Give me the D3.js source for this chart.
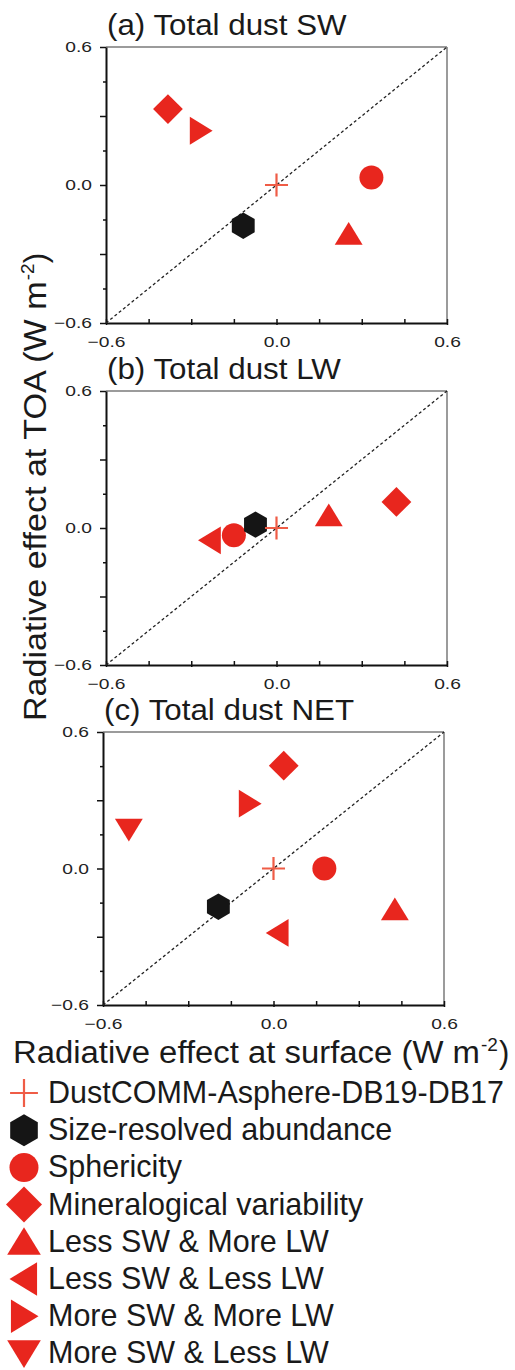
<!DOCTYPE html>
<html>
<head>
<meta charset="utf-8">
<script src="https://cdn.jsdelivr.net/npm/d3@7"></script>
<style>
  body { margin: 0; background: #fff; }
  svg { font-family: "Liberation Sans", Arial, sans-serif; display: block; }
</style>
</head>
<body>
<svg id="chart"></svg>
<script>
// ---- data ----
const seriesNames = [
    'DustCOMM-Asphere-DB19-DB17',
    'Size-resolved abundance',
    'Sphericity',
    'Mineralogical variability',
    'Less SW & More LW',
    'Less SW & Less LW',
    'More SW & More LW',
    'More SW & Less LW'
];
const seriesShapes = ['cross', 'hexagon', 'circle', 'diamond', 'triUp', 'triLeft', 'triRight', 'triDown'];
const seriesColors = ['#ef5c46', '#151515', '#e8261e', '#e8261e', '#e8261e', '#e8261e', '#e8261e', '#e8261e'];

// surface (x) and TOA (y) radiative effect, W m-2 (null = not shown)
const swSurface  = [0, -0.117, 0.334, -0.382, 0.254, null, -0.267, null];
const swToa      = [0, -0.177, 0.033, 0.330, -0.213, null, 0.236, null];
const lwSurface  = [0, -0.074, -0.150, 0.422, 0.184, -0.234, null, null];
const lwToa      = [0, 0.015, -0.032, 0.114, 0.055, -0.054, null, null];
const netSurface = [0, -0.194, 0.179, 0.036, 0.427, 0.015, -0.084, -0.509];
const netToa     = [0, -0.168, 0.000, 0.452, -0.180, -0.283, 0.285, 0.171];

const panelTitles = ['(a) Total dust SW', '(b) Total dust LW', '(c) Total dust NET'];
const tickValues = [-0.6, -0.45, -0.3, -0.15, 0, 0.15, 0.3, 0.45, 0.6];
const majorTicks = [-0.6, 0, 0.6];
const majorTickLabels = ['\u22120.6', '0.0', '0.6'];
const axisDomain = [-0.6, 0.6];

const width = 515, height = 1370;

const svg = d3.select('#chart')
    .attr('width', width)
    .attr('height', height);

// the original figure's lettering is a bit wider than Arial; widen each text by k
function stretch(sel, k) {
    sel.each(function() {
        const w = this.getComputedTextLength();
        if (w > 0) {
            d3.select(this)
                .attr('textLength', w * k)
                .attr('lengthAdjust', 'spacingAndGlyphs');
        }
    });
}

// build a marker path centred on 0,0 ; s is the nominal marker size in px
function markerPath(shape, s) {
    const p = d3.path();
    const h = s / 2;
    if (shape === 'circle') {
        p.arc(0, 0, h, 0, 2 * Math.PI);
    } else if (shape === 'hexagon') {
        const r = s * 0.55;
        for (let i = 0; i < 6; i++) {
            const a = -Math.PI / 2 + i * Math.PI / 3;
            i === 0 ? p.moveTo(r * Math.cos(a), r * Math.sin(a)) : p.lineTo(r * Math.cos(a), r * Math.sin(a));
        }
        p.closePath();
    } else if (shape === 'diamond') {
        const r = s * 0.62;
        p.moveTo(0, -r); p.lineTo(r, 0); p.lineTo(0, r); p.lineTo(-r, 0); p.closePath();
    } else if (shape === 'triUp') {
        p.moveTo(0, -s * 0.5); p.lineTo(s * 0.58, s * 0.45); p.lineTo(-s * 0.58, s * 0.45); p.closePath();
    } else if (shape === 'triDown') {
        p.moveTo(0, s * 0.5); p.lineTo(s * 0.58, -s * 0.45); p.lineTo(-s * 0.58, -s * 0.45); p.closePath();
    } else if (shape === 'triLeft') {
        p.moveTo(-s * 0.5, 0); p.lineTo(s * 0.45, -s * 0.58); p.lineTo(s * 0.45, s * 0.58); p.closePath();
    } else if (shape === 'triRight') {
        p.moveTo(s * 0.5, 0); p.lineTo(-s * 0.45, -s * 0.58); p.lineTo(-s * 0.45, s * 0.58); p.closePath();
    } else if (shape === 'cross') {
        const r = s * 0.48;
        p.moveTo(-r, 0); p.lineTo(r, 0); p.moveTo(0, -r); p.lineTo(0, r);
    }
    return p.toString();
}

function drawMarker(g, shape, color, s) {
    const path = g.append('path').attr('d', markerPath(shape, s));
    if (shape === 'cross') {
        path.attr('fill', 'none').attr('stroke', color).attr('stroke-width', 2.2);
    } else {
        path.attr('fill', color);
    }
}

class Scatterplot {
    constructor(_config, _xs, _ys) {
        this.config = {
            left: _config.left,
            top: _config.top,
            size: _config.size || 341,
            plotHeight: _config.plotHeight || 275,
            title: _config.title
        };
        this.data = seriesNames.map((name, i) => ({
            name: name,
            shape: seriesShapes[i],
            color: seriesColors[i],
            x: _xs[i],
            y: _ys[i]
        })).filter(d => d.x !== null && d.y !== null);
        this.initVis();
    }

    initVis() {
        let vis = this;
        vis.chart = svg.append('g')
            .attr('transform', `translate(${vis.config.left},${vis.config.top})`);

        vis.xScale = d3.scaleLinear().domain(axisDomain).range([0, vis.config.size]);
        vis.yScale = d3.scaleLinear().domain(axisDomain).range([vis.config.plotHeight, 0]);

        const fmt = d => {
            const k = majorTicks.findIndex(t => Math.abs(t - d) < 1e-9);
            return k >= 0 ? majorTickLabels[k] : '';
        };
        const isLong = d => Math.abs(Math.abs(d) - 0.3) < 1e-9 || Math.abs(d) < 1e-9 || Math.abs(Math.abs(d) - 0.6) < 1e-9;

        vis.xAxis = d3.axisBottom(vis.xScale)
            .tickValues(tickValues)
            .tickSize(6)
            .tickSizeOuter(0)
            .tickPadding(7)
            .tickFormat(fmt);

        vis.yAxis = d3.axisLeft(vis.yScale)
            .tickValues(tickValues)
            .tickSize(6)
            .tickSizeOuter(0)
            .tickPadding(8)
            .tickFormat(fmt);

        // top / right frame in grey
        vis.chart.append('line')
            .attr('x1', 0).attr('x2', vis.config.size)
            .attr('y1', 0).attr('y2', 0)
            .attr('stroke', '#7a7a7a').attr('stroke-width', 1.5);
        vis.chart.append('line')
            .attr('x1', vis.config.size).attr('x2', vis.config.size)
            .attr('y1', 0).attr('y2', vis.config.plotHeight)
            .attr('stroke', '#7a7a7a').attr('stroke-width', 1.5);

        vis.xAxisG = vis.chart.append('g')
            .attr('transform', `translate(0,${vis.config.plotHeight})`)
            .call(vis.xAxis);
        vis.xAxisG.selectAll('.tick line')
            .attr('y1', -4)
            .attr('y2', d => isLong(d) ? 2 : 0);

        vis.yAxisG = vis.chart.append('g')
            .call(vis.yAxis);
        vis.yAxisG.selectAll('.tick line')
            .attr('x2', d => isLong(d) ? -6 : -3);

        [vis.xAxisG, vis.yAxisG].forEach(g => {
            g.select('.domain').attr('stroke', '#111').attr('stroke-width', 2);
            g.selectAll('.tick line').attr('stroke', '#111').attr('stroke-width', 1.5);
            g.selectAll('.tick text')
                .attr('fill', '#222')
                .style('font-size', '15px')
                .style('font-family', '"Liberation Sans", Arial, sans-serif')
                .call(stretch, 1.28);
        });

        vis.chart.append('text')
            .attr('x', 1)
            .attr('y', -12)
            .attr('fill', '#1a1a1a')
            .style('font-size', '29px')
            .text(vis.config.title)
            .call(stretch, 1.08);

        vis.renderVis();
    }

    renderVis() {
        let vis = this;

        // 1:1 line
        vis.chart.append('line')
            .attr('x1', vis.xScale(axisDomain[0])).attr('y1', vis.yScale(axisDomain[0]))
            .attr('x2', vis.xScale(axisDomain[1])).attr('y2', vis.yScale(axisDomain[1]))
            .attr('stroke', '#222')
            .attr('stroke-width', 1.3)
            .attr('stroke-dasharray', '3,2.5');

        // draw in reverse legend order so the reference cross lies on top
        const pts = vis.chart.selectAll('.point')
            .data(vis.data.slice().reverse())
            .join('g')
            .attr('class', 'point')
            .attr('transform', d => `translate(${vis.xScale(d.x)},${vis.yScale(d.y)})`);
        pts.each(function(d) { drawMarker(d3.select(this), d.shape, d.color, 24); });
    }
}

new Scatterplot({ left: 106, top: 47, plotHeight: 276, title: panelTitles[0] }, swSurface, swToa);
new Scatterplot({ left: 106, top: 391, plotHeight: 274, title: panelTitles[1] }, lwSurface, lwToa);
new Scatterplot({ left: 103, top: 732, plotHeight: 273, title: panelTitles[2] }, netSurface, netToa);

// shared axis titles (superscript kept as a separate text so the stretch stays simple)
const yTitle = svg.append('g')
    .attr('transform', 'translate(46,487) rotate(-90)');
const yMain = yTitle.append('text')
    .attr('fill', '#1a1a1a')
    .style('font-size', '31px')
    .text('Radiative effect at TOA (W m')
    .call(stretch, 1.1);
const yMainW = +yMain.attr('textLength');
yTitle.append('text')
    .attr('x', yMainW + 1).attr('y', -12)
    .attr('fill', '#1a1a1a')
    .style('font-size', '19px')
    .text('-2');
yTitle.append('text')
    .attr('x', yMainW + 18)
    .attr('fill', '#1a1a1a')
    .style('font-size', '31px')
    .text(')');
{
    const b = yTitle.node().getBBox();
    yTitle.attr('transform', `translate(46,${487 + b.width / 2}) rotate(-90)`);
}

const xTitle = svg.append('g').attr('transform', 'translate(13,1063)');
const xMain = xTitle.append('text')
    .attr('fill', '#1a1a1a')
    .style('font-size', '31px')
    .text('Radiative effect at surface (W m')
    .call(stretch, 1.06);
const xMainW = +xMain.attr('textLength');
xTitle.append('text')
    .attr('x', xMainW + 1).attr('y', -12)
    .attr('fill', '#1a1a1a')
    .style('font-size', '19px')
    .text('-2');
xTitle.append('text')
    .attr('x', xMainW + 19)
    .attr('fill', '#1a1a1a')
    .style('font-size', '31px')
    .text(')');

// legend
const legend = svg.append('g').attr('transform', 'translate(0,1103)');
const items = legend.selectAll('.legend-item')
    .data(seriesNames.map((name, i) => ({ name: name, shape: seriesShapes[i], color: seriesColors[i] })))
    .join('g')
    .attr('class', 'legend-item')
    .attr('transform', (d, i) => `translate(0,${i * 37.2})`);
items.each(function(d) {
    const m = d3.select(this).append('g').attr('transform', 'translate(24,-10)');
    drawMarker(m, d.shape, d.color, 29);
});
items.append('text')
    .attr('x', 48)
    .attr('y', 0)
    .attr('fill', '#1a1a1a')
    .style('font-size', '30.5px')
    .text(d => d.name);
</script>
</body>
</html>
